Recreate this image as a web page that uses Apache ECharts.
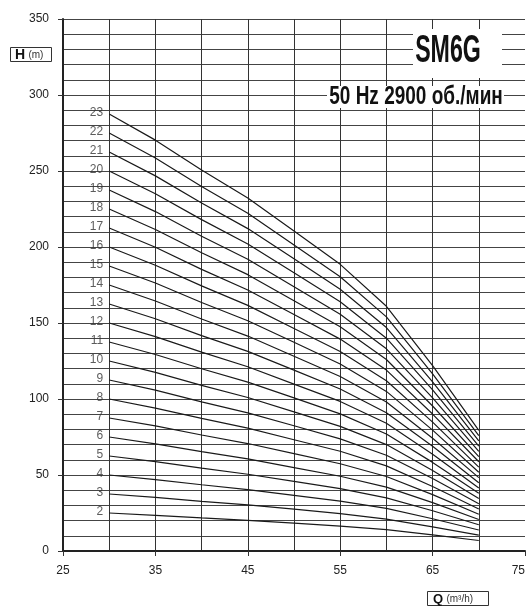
<!DOCTYPE html>
<html>
<head>
<meta charset="utf-8">
<script src="https://cdn.jsdelivr.net/npm/echarts@6/dist/echarts.min.js"></script>
<style>
html,body{margin:0;padding:0;background:#fff;}
#c{width:528px;height:607px;}
</style>
</head>
<body>
<div id="c"></div>
<script>
// Flow rate points (m3/h)
const flow = [30, 35, 40, 45, 50, 55, 60, 65, 70];
// Stage numbers (curve labels)
const stages = ['2','3','4','5','6','7','8','9','10','11','12','13','14','15','16','17','18','19','20','21','22','23'];
// Head (m) for each stage count, read at the flow points
const h2  = [25,    23.5,  21.8,  20.2,  18.3,  16.4,  14,  10.6,  6.9];
const h3  = [37.5,  35.3,  32.7,  30.3,  27.5,  24.6,  21,  15.9, 10.4];
const h4  = [50,    47,    43.6,  40.4,  36.6,  32.8,  28,  21.2, 13.8];
const h5  = [62.5,  58.8,  54.5,  50.5,  45.8,  41,    35,  26.5, 17.3];
const h6  = [75,    70.5,  65.4,  60.6,  54.9,  49.2,  42,  31.8, 20.7];
const h7  = [87.5,  82.3,  76.3,  70.7,  64.1,  57.4,  49,  37.1, 24.2];
const h8  = [100,   94,    87.2,  80.8,  73.2,  65.6,  56,  42.4, 27.6];
const h9  = [112.5, 105.8, 98.1,  90.9,  82.4,  73.8,  63,  47.7, 31.1];
const h10 = [125,   117.5, 109,   101,   91.5,  82,    70,  53,   34.5];
const h11 = [137.5, 129.3, 119.9, 111.1, 100.7, 90.2,  77,  58.3, 38];
const h12 = [150,   141,   130.8, 121.2, 109.8, 98.4,  84,  63.6, 41.4];
const h13 = [162.5, 152.8, 141.7, 131.3, 119,   106.6, 91,  68.9, 44.9];
const h14 = [175,   164.5, 152.6, 141.4, 128.1, 114.8, 98,  74.2, 48.3];
const h15 = [187.5, 176.3, 163.5, 151.5, 137.3, 123,   105, 79.5, 51.8];
const h16 = [200,   188,   174.4, 161.6, 146.4, 131.2, 112, 84.8, 55.2];
const h17 = [212.5, 199.8, 185.3, 171.7, 155.6, 139.4, 119, 90.1, 58.7];
const h18 = [225,   211.5, 196.2, 181.8, 164.7, 147.6, 126, 95.4, 62.1];
const h19 = [237.5, 223.3, 207.1, 191.9, 173.9, 155.8, 133, 100.7, 65.6];
const h20 = [250,   235,   218,   202,   183,   164,   140, 106,  69];
const h21 = [262.5, 246.8, 228.9, 212.1, 192.2, 172.2, 147, 111.3, 72.5];
const h22 = [275,   258.5, 239.8, 222.2, 201.3, 180.4, 154, 116.6, 75.9];
const h23 = [287.5, 270.3, 250.7, 232.3, 210.5, 188.6, 161, 121.9, 79.4];
const heads = [h2,h3,h4,h5,h6,h7,h8,h9,h10,h11,h12,h13,h14,h15,h16,h17,h18,h19,h20,h21,h22,h23];
// Axis tick labels
const xTicks = [25, 35, 45, 55, 65, 75];
const yTicks = [0, 50, 100, 150, 200, 250, 300, 350];

const chart = echarts.init(document.getElementById('c'), null, {renderer: 'canvas'});
const labelFont = "'Liberation Sans', Arial, sans-serif";

const lineSeries = heads.map((h, i) => ({
  name: stages[i],
  type: 'line',
  xAxisIndex: 0,
  yAxisIndex: 0,
  symbol: 'none',
  silent: true,
  lineStyle: {color: '#1a1a1a', width: 1.2},
  data: h.map((v, k) => [flow[k], v]),
  z: 5
}));

const labelSeries = {
  type: 'scatter',
  xAxisIndex: 0,
  yAxisIndex: 0,
  symbolSize: 0,
  silent: true,
  data: heads.map((h, i) => ({value: [flow[0], h[0]], name: stages[i]})),
  label: {
    show: true,
    position: 'left',
    distance: 6,
    offset: [0, -1],
    formatter: p => p.name,
    fontFamily: labelFont,
    fontSize: 12,
    color: '#333'
  },
  z: 6
};

const option = {
  animation: false,
  backgroundColor: '#fff',
  grid: {left: 63, right: 3, top: 19, bottom: 56, containLabel: false},
  xAxis: [
    {
      type: 'value', min: xTicks[0], max: xTicks[xTicks.length - 1], interval: 10,
      axisLine: {show: true, lineStyle: {color: '#222', width: 2}},
      axisTick: {show: true, length: 5, lineStyle: {color: '#333'}},
      axisLabel: {show: true, margin: 14, fontFamily: labelFont, fontSize: 12, color: '#222', alignMaxLabel: 'right'},
      splitLine: {show: false}
    },
    {
      type: 'value', min: 25, max: 75, interval: 5,
      axisLine: {show: false}, axisTick: {show: false}, axisLabel: {show: false},
      splitLine: {show: true, showMaxLine: false, lineStyle: {color: '#333', width: 1}}
    }
  ],
  yAxis: [
    {
      type: 'value', min: yTicks[0], max: yTicks[yTicks.length - 1], interval: 50,
      axisLine: {show: true, lineStyle: {color: '#222', width: 2}},
      axisTick: {show: true, length: 5, lineStyle: {color: '#333'}},
      axisLabel: {show: true, margin: 14, fontFamily: labelFont, fontSize: 12, color: '#222'},
      splitLine: {show: false}
    },
    {
      type: 'value', min: 0, max: 350, interval: 10,
      axisLine: {show: false}, axisTick: {show: false}, axisLabel: {show: false},
      splitLine: {show: true, lineStyle: {color: '#444', width: 1}}
    }
  ],
  series: [...lineSeries, labelSeries],
  graphic: [
    {type: 'rect', shape: {x: 413, y: 29, width: 89, height: 49}, style: {fill: '#fff'}, z: 50, silent: true},
    {type: 'text', x: 448, y: 52, scaleX: 0.61, z: 51, silent: true,
      style: {text: 'SM6G', font: "bold 38px " + labelFont, fill: '#111', textAlign: 'center', textVerticalAlign: 'middle'}},
    {type: 'rect', shape: {x: 327, y: 86, width: 177, height: 22}, style: {fill: '#fff'}, z: 50, silent: true},
    {type: 'text', x: 416, y: 97.5, scaleX: 0.76, z: 51, silent: true,
      style: {text: '50 Hz 2900 об./мин', font: "bold 25px " + labelFont, fill: '#111', textAlign: 'center', textVerticalAlign: 'middle'}},
    {type: 'rect', shape: {x: 10.5, y: 47.5, width: 41, height: 14}, style: {fill: '#fff', stroke: '#333', lineWidth: 1}, z: 50, silent: true},
    {type: 'text', x: 15, y: 55, z: 51, silent: true,
      style: {text: '{b|H} {s|(m)}', textVerticalAlign: 'middle',
        rich: {b: {font: "bold 14px " + labelFont, fill: '#111'}, s: {font: "10px " + labelFont, fill: '#333'}}}},
    {type: 'rect', shape: {x: 427.5, y: 591.5, width: 61, height: 14}, style: {fill: '#fff', stroke: '#333', lineWidth: 1}, z: 50, silent: true},
    {type: 'text', x: 433, y: 599, z: 51, silent: true,
      style: {text: '{b|Q} {s|(m³/h)}', textVerticalAlign: 'middle',
        rich: {b: {font: "bold 13px " + labelFont, fill: '#111'}, s: {font: "10px " + labelFont, fill: '#333'}}}}
  ]
};
chart.setOption(option);
</script>
</body>
</html>
